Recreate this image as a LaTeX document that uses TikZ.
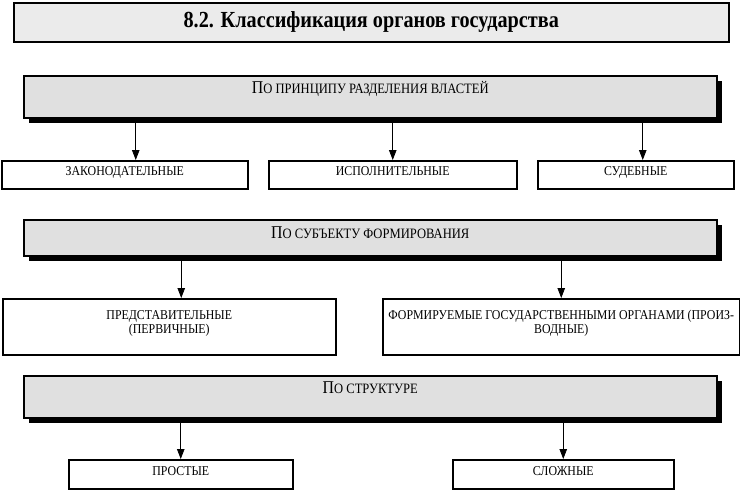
\documentclass[tikz,border=0pt]{standalone}
\usepackage{fontspec}
\setmainfont{Liberation Serif}[FakeStretch=0.88]
\usetikzlibrary{positioning,arrows.meta,shadows}

% small capitals made by hand
\newcommand\smcaps[1]{{\fontsize{14.3}{16}\selectfont\MakeUppercase{#1}}}

\tikzset{
    heading/.style = {
        draw,
        shape=rectangle,
        line width=1.5pt,
        fill=black!8,
        minimum width=715pt,
        minimum height=39pt,
        font=\fontsize{23}{26}\selectfont\bfseries
    },
    category/.style = {
        draw,
        shape=rectangle,
        line width=1.5pt,
        fill=black!12,
        minimum width=693pt,
        inner ysep=0pt,
        font=\fontsize{18}{20}\selectfont,
        drop shadow={shadow xshift=5pt, shadow yshift=-5pt, fill=black, opacity=1}
    },
    leaf/.style = {
        draw,
        shape=rectangle,
        line width=1.5pt,
        fill=white,
        inner ysep=0pt,
        align=center,
        font=\fontsize{13.5}{14}\selectfont
    },
    >={Triangle[width=7.5pt,length=10pt]},
}

\begin{document}
\begin{tikzpicture}[x=1pt, y=-1pt]
            \useasboundingbox (0,0) rectangle (740,490);

            \node[heading, anchor=north west] (title) at (13,2) {8.2. Классификация органов государства};

            % by separation of powers
            \node[category, anchor=north west, text height=18pt, text depth=24pt] (powers) at (23,75) {П\smcaps{о принципу разделения властей}};
            \node[leaf, anchor=north west, minimum width=246pt, text height=15pt, text depth=13pt] (legis) at (1,160) {ЗАКОНОДАТЕЛЬНЫЕ};
            \node[leaf, anchor=north west, minimum width=248pt, text height=15pt, text depth=13pt] (exec) at (268,160) {ИСПОЛНИТЕЛЬНЫЕ};
            \node[leaf, anchor=north west, minimum width=196pt, text height=15pt, text depth=13pt] (judic) at (537,160) {СУДЕБНЫЕ};

            % by forming subject
            \node[category, anchor=north west, text height=19pt, text depth=17pt] (subject) at (23,219) {П\smcaps{о субъекту формирования}};
            \node[leaf, anchor=north west, minimum width=333pt, text height=35pt, text depth=21pt] (primary) at (2,298) {ПРЕДСТАВИТЕЛЬНЫЕ\\(ПЕРВИЧНЫЕ)};
            \node[leaf, anchor=north west, minimum width=357pt, text height=35pt, text depth=21pt] (derived) at (382,298) {ФОРМИРУЕМЫЕ ГОСУДАРСТВЕННЫМИ ОРГАНАМИ (ПРОИЗ-\\ВОДНЫЕ)};

            % by structure
            \node[category, anchor=north west, text height=18pt, text depth=24pt] (struct) at (23,375) {П\smcaps{о структуре}};
            \node[leaf, anchor=north west, minimum width=224pt, text height=16pt, text depth=13pt] (simple) at (68,459) {ПРОСТЫЕ};
            \node[leaf, anchor=north west, minimum width=221pt, text height=16pt, text depth=13pt] (complex) at (452,459) {СЛОЖНЫЕ};

            \path[draw, ->, line width=0.8pt] ([xshift=11pt]legis.north |- powers.south) -- ([xshift=11pt]legis.north);
            \path[draw, ->, line width=0.8pt] (exec.north |- powers.south) -- (exec.north);
            \path[draw, ->, line width=0.8pt] ([xshift=7pt]judic.north |- powers.south) -- ([xshift=7pt]judic.north);

            \path[draw, ->, line width=0.8pt] ([xshift=12pt]primary.north |- subject.south) -- ([xshift=12pt]primary.north);
            \path[draw, ->, line width=0.8pt] (derived.north |- subject.south) -- (derived.north);

            \path[draw, ->, line width=0.8pt] (simple.north |- struct.south) -- (simple.north);
            \path[draw, ->, line width=0.8pt] (complex.north |- struct.south) -- (complex.north);

        \end{tikzpicture}
\end{document}
